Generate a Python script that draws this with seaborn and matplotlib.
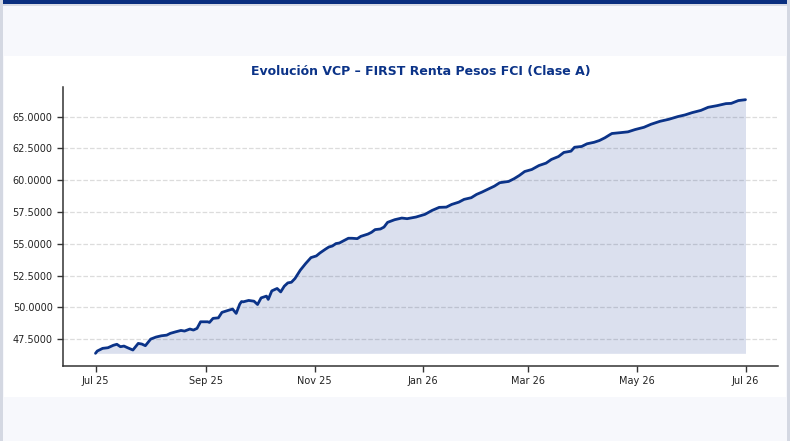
import matplotlib
matplotlib.use('Agg')
import matplotlib.pyplot as plt
import matplotlib.dates as mdates
from matplotlib.patches import Rectangle
from matplotlib.ticker import FormatStrFormatter
import seaborn as sns
import pandas as pd

# VCP values
fechas = [
    '2025-07-01', '2025-07-02', '2025-07-05', '2025-07-08', '2025-07-11', '2025-07-13',
    '2025-07-15', '2025-07-17', '2025-07-19', '2025-07-22', '2025-07-25', '2025-07-27',
    '2025-07-29', '2025-08-01', '2025-08-04', '2025-08-07', '2025-08-10', '2025-08-12',
    '2025-08-15', '2025-08-18', '2025-08-20', '2025-08-23', '2025-08-25', '2025-08-27',
    '2025-08-29', '2025-09-02', '2025-09-03', '2025-09-05', '2025-09-08', '2025-09-10',
    '2025-09-14', '2025-09-16', '2025-09-18', '2025-09-20', '2025-09-21', '2025-09-22',
    '2025-09-25', '2025-09-28', '2025-09-30', '2025-10-02', '2025-10-05', '2025-10-06',
    '2025-10-08', '2025-10-10', '2025-10-11', '2025-10-13', '2025-10-15', '2025-10-17',
    '2025-10-19', '2025-10-21', '2025-10-24', '2025-10-27', '2025-10-30', '2025-11-02',
    '2025-11-04', '2025-11-07', '2025-11-09', '2025-11-11', '2025-11-13', '2025-11-15',
    '2025-11-17', '2025-11-20', '2025-11-22', '2025-11-25', '2025-11-27', '2025-12-01',
    '2025-12-03', '2025-12-05', '2025-12-08', '2025-12-10', '2025-12-12', '2025-12-16',
    '2025-12-20', '2025-12-23', '2025-12-28', '2026-01-02', '2026-01-06', '2026-01-10',
    '2026-01-14', '2026-01-17', '2026-01-21', '2026-01-24', '2026-01-28', '2026-01-31',
    '2026-02-03', '2026-02-07', '2026-02-10', '2026-02-13', '2026-02-18', '2026-02-21',
    '2026-02-24', '2026-02-27', '2026-03-03', '2026-03-07', '2026-03-11', '2026-03-14',
    '2026-03-18', '2026-03-21', '2026-03-25', '2026-03-27', '2026-03-31', '2026-04-03',
    '2026-04-07', '2026-04-10', '2026-04-13', '2026-04-16', '2026-04-17', '2026-04-22',
    '2026-04-26', '2026-04-30', '2026-05-05', '2026-05-09', '2026-05-14', '2026-05-19',
    '2026-05-24', '2026-05-28', '2026-06-01', '2026-06-06', '2026-06-10', '2026-06-15',
    '2026-06-20', '2026-06-23', '2026-06-27', '2026-07-01',
]
vcp = [
    46.38, 46.56, 46.77, 46.82, 47.01, 47.09,
    46.90, 46.95, 46.82, 46.64, 47.16, 47.11,
    46.98, 47.50, 47.66, 47.76, 47.81, 47.95,
    48.07, 48.18, 48.13, 48.29, 48.21, 48.34,
    48.86, 48.86, 48.81, 49.13, 49.17, 49.60,
    49.78, 49.86, 49.52, 50.25, 50.45, 50.43,
    50.54, 50.48, 50.22, 50.74, 50.88, 50.62,
    51.29, 51.42, 51.48, 51.21, 51.66, 51.92,
    51.97, 52.26, 52.92, 53.44, 53.91, 54.04,
    54.27, 54.56, 54.74, 54.82, 55.01, 55.06,
    55.21, 55.43, 55.43, 55.40, 55.58, 55.76,
    55.90, 56.11, 56.16, 56.31, 56.68, 56.89,
    57.02, 56.97, 57.10, 57.31, 57.62, 57.86,
    57.88, 58.09, 58.27, 58.49, 58.62, 58.88,
    59.06, 59.33, 59.53, 59.80, 59.90, 60.11,
    60.37, 60.68, 60.84, 61.15, 61.34, 61.63,
    61.86, 62.18, 62.28, 62.59, 62.65, 62.86,
    62.98, 63.12, 63.33, 63.59, 63.67, 63.74,
    63.80, 63.98, 64.16, 64.40, 64.63, 64.79,
    65.00, 65.13, 65.31, 65.49, 65.73, 65.86,
    66.02, 66.04, 66.26, 66.33,
]
titulo = 'Evolución VCP – FIRST Renta Pesos FCI (Clase A)'

azul = '#0b3388'

df = pd.DataFrame({'fecha': pd.to_datetime(fechas), 'vcp': vcp})

sns.set_style('ticks')
plt.rcParams['font.family'] = ['DejaVu Sans']

fig = plt.figure(figsize=(7.9, 4.41), dpi=100, facecolor='#f7f8fc')
W, H = 790, 441


def caja(x0, y0, x1, y1, color):
    fig.add_artist(Rectangle((x0 / W, 1 - y1 / H), (x1 - x0) / W, (y1 - y0) / H,
                             transform=fig.transFigure, facecolor=color,
                             edgecolor='none', zorder=-10))


caja(4, 56, 786, 397, 'white')
caja(0, 0, 3, H, '#d4d8e2')
caja(787, 0, W, H, '#d4d8e2')
caja(3, 0, 787, 4, '#0a2f7f')
caja(3, 4, 787, 6, '#d9dce5')

ax = fig.add_axes([63 / W, 1 - 366 / H, (778 - 63) / W, (366 - 87) / H])
ax.set_facecolor('none')

sns.lineplot(data=df, x='fecha', y='vcp', ax=ax, color=azul, linewidth=2)
ax.fill_between(df['fecha'], df['vcp'], df['vcp'].min(), color='#1f3f96', alpha=0.16,
                linewidth=0)

ax.set_title(titulo, fontsize=9, fontweight='bold', color=azul, pad=9)
ax.set_xlabel('')
ax.set_ylabel('')
ax.yaxis.grid(True, linestyle='--', color='#dcdcdc', linewidth=0.9)
ax.xaxis.grid(False)
ax.yaxis.set_major_formatter(FormatStrFormatter('%.4f'))
ax.xaxis.set_major_locator(mdates.MonthLocator(bymonth=[1, 3, 5, 7, 9, 11]))
ax.xaxis.set_major_formatter(mdates.DateFormatter('%b %y'))
ax.tick_params(labelsize=7, length=4, width=1, color='#333333', labelcolor='#222222')
sns.despine(ax=ax)
for s in ['left', 'bottom']:
    ax.spines[s].set_color('#333333')
    ax.spines[s].set_linewidth(1.1)

plt.savefig('out.png', dpi=100, facecolor=fig.get_facecolor())
